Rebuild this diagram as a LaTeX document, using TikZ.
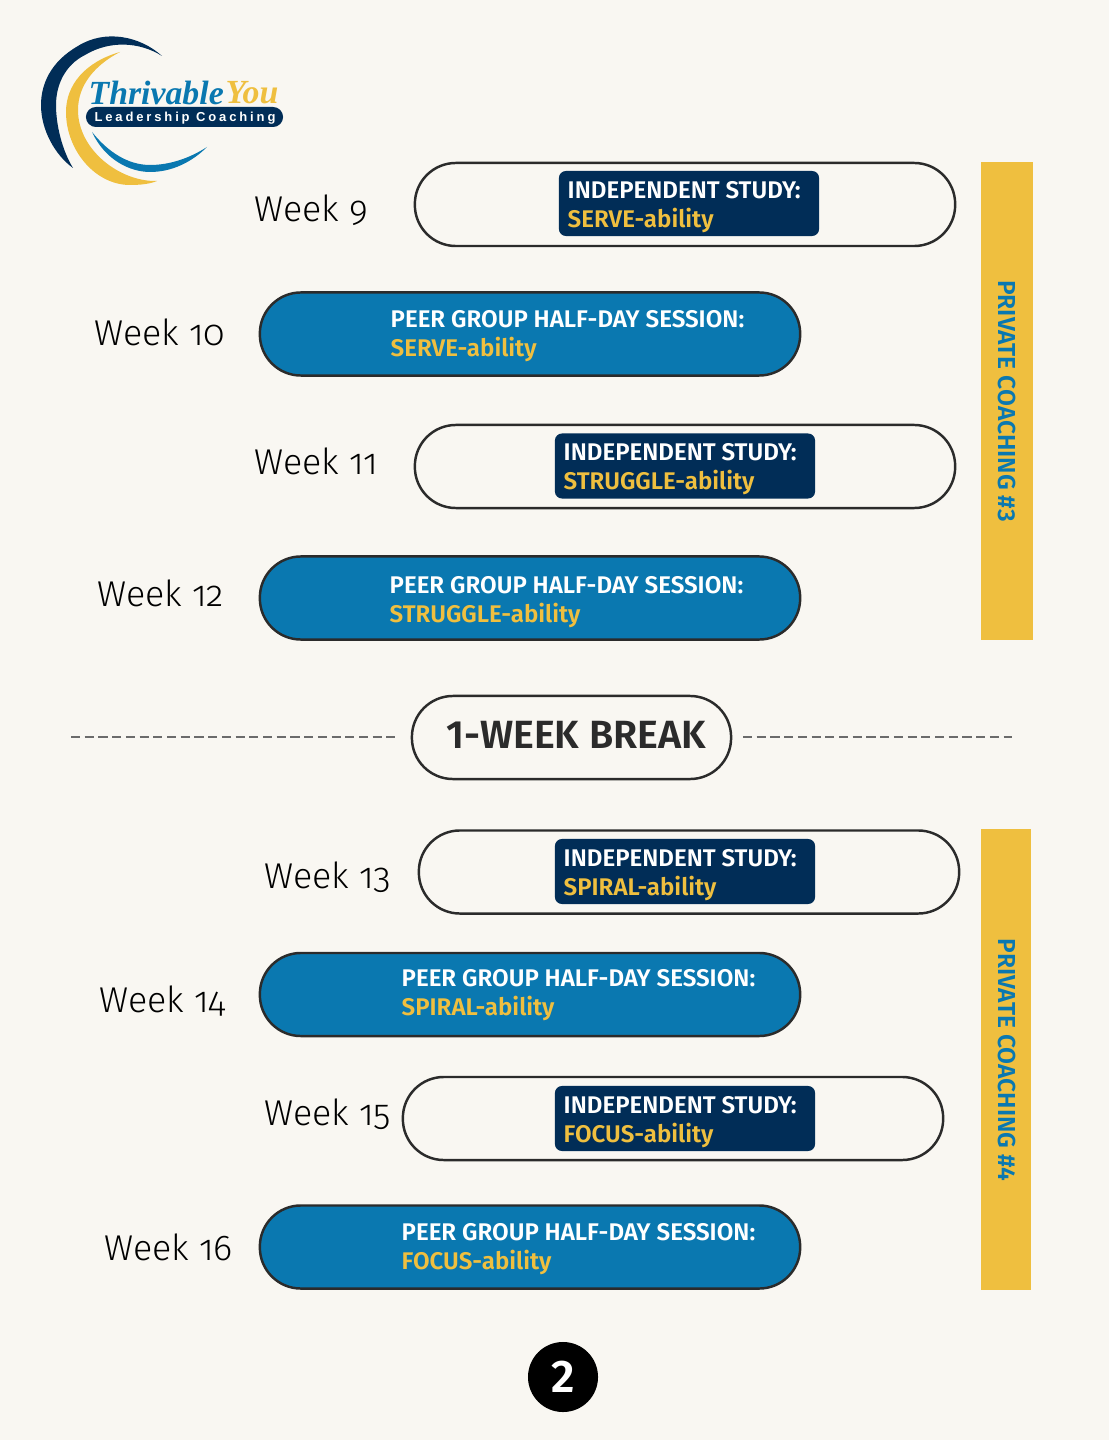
\documentclass[tikz,border=0pt]{standalone}
\usepackage{fontspec}
\setmainfont{Fira Sans}
\newfontfamily\weekfont[Numbers=OldStyle]{Fira Sans Light}
\newfontfamily\labelfont{Fira Sans SemiBold}
\newfontfamily\logofont{Liberation Serif}
\newfontfamily\tagfont[LetterSpace=22]{Liberation Sans}
\definecolor{paper}{HTML}{F9F7F2}
\definecolor{navy}{HTML}{012D57}
\definecolor{ocean}{HTML}{0A78B0}
\definecolor{gold}{HTML}{EFBF3F}
\definecolor{ink}{HTML}{2B2B2B}

\begin{document}
\begin{tikzpicture}[x=0.01cm,y=-0.01cm]
  \tikzstyle{week}=[anchor=west,inner sep=0pt,font=\weekfont\fontsize{10.2}{12}\selectfont,text=black]
  \tikzstyle{pill}=[rectangle,rounded corners=0.41cm,draw=ink,line width=0.7pt,minimum width=5.4cm,minimum height=0.83cm,inner sep=0pt]
  \tikzstyle{study}=[pill,fill=paper]
  \tikzstyle{peer}=[pill,fill=ocean]
  \tikzstyle{lines}=[anchor=west,inner sep=0pt,align=left,text=white,font=\labelfont\fontsize{6.85}{8.25}\selectfont]
  \tikzstyle{tag}=[rectangle,rounded corners=0.07cm,fill=navy,minimum width=2.6cm,minimum height=0.65cm,inner sep=0pt]
  \tikzstyle{bar}=[rectangle,fill=gold,inner sep=0pt]
  \tikzstyle{coaching}=[rotate=-90,inner sep=0pt,text=ocean,font=\labelfont\fontsize{6.98}{8}\selectfont]
  \tikzstyle{breakline}=[draw=ink!70,line width=0.5pt,dash pattern=on 2.6pt off 1.3pt]

  \fill[paper] (0,0) rectangle (1109,1440);

  % logo
  \fill[navy] (162,56) .. controls (140,36) and (105,29) .. (78,46) .. controls (50,62) and (41,85) .. (41,105) .. controls (41,130) and (55,155) .. (73,168) .. controls (62,150) and (56,125) .. (56,105) .. controls (56,85) and (65,65) .. (85,55) .. controls (110,40) and (140,42) .. (162,56);
  \fill[gold] (120,52) .. controls (85,62) and (66,85) .. (66,112) .. controls (66,150) and (95,185) .. (130,185) .. controls (140,185) and (150,184) .. (157,181) .. controls (120,182) and (78,150) .. (78,110) .. controls (78,85) and (95,65) .. (120,52);
  \fill[ocean] (92,132) .. controls (105,160) and (130,172) .. (150,172) .. controls (172,172) and (192,162) .. (207,147) .. controls (190,158) and (170,165) .. (150,165) .. controls (128,165) and (108,152) .. (92,132);
  \node[anchor=west,inner sep=0pt,font=\logofont\bfseries\itshape\fontsize{9.6}{11}\selectfont,text=ocean] (thrivable) at (88,93) {Thrivable};
  \node[anchor=west,inner sep=0pt,font=\logofont\bfseries\itshape\fontsize{9.6}{11}\selectfont,text=gold] (you) at (225,93) {You};
  \node[rectangle,rounded corners=0.1cm,fill=navy,minimum width=1.97cm,minimum height=0.2cm,inner sep=0pt] (coachingtag) at (184.5,117) {};
  \node[inner sep=0pt,text=white,font=\tagfont\bfseries\fontsize{3.7}{4}\selectfont] (coachingtext) at (185,118) {Leadership Coaching};

  % first block
  \node[week] (W_9) at (254,210) {Week 9};
  \node[week] (W_10) at (94,332) {Week 10};
  \node[week] (W_11) at (254,461) {Week 11};
  \node[week] (W_12) at (97,593) {Week 12};

  \node[study] (P_9) at (685,204.5) {};
  \node[peer] (P_10) at (530,334) {};
  \node[study] (P_11) at (685,466.5) {};
  \node[peer] (P_12) at (530,598) {};

  \node[tag] (T_9) at (689,203.5) {};
  \node[tag] (T_11) at (685,466) {};
  \node[lines] (L_9) at (567,207) {INDEPENDENT STUDY:\\\textcolor{gold}{SERVE-ability}};
  \node[lines] (L_10) at (390,336) {PEER GROUP HALF-DAY SESSION:\\\textcolor{gold}{SERVE-ability}};
  \node[lines] (L_11) at (563,469) {INDEPENDENT STUDY:\\\textcolor{gold}{STRUGGLE-ability}};
  \node[lines] (L_12) at (389,602) {PEER GROUP HALF-DAY SESSION:\\\textcolor{gold}{STRUGGLE-ability}};

  \node[bar,minimum width=0.52cm,minimum height=4.78cm] (B_3) at (1007,401) {};
  \node[coaching] (C_3) at (1007,401) {PRIVATE COACHING \#3};

  % break
  \node[rectangle,rounded corners=0.41cm,draw=ink,line width=0.7pt,minimum width=3.19cm,minimum height=0.83cm,inner sep=0pt] (breakpill) at (571.5,737.5) {};
  \node[inner sep=0pt,text=ink,font=\labelfont\fontsize{11.2}{13}\selectfont] (breaktext) at (576,735) {1-WEEK BREAK};
  \coordinate (dash_a) at (71,737);
  \coordinate (dash_b) at (395,737);
  \coordinate (dash_c) at (743,737);
  \coordinate (dash_d) at (1012,737);
  \draw[breakline] (dash_a) -- (dash_b);
  \draw[breakline] (dash_c) -- (dash_d);

  % second block
  \node[week] (W_13) at (264,877) {Week 13};
  \node[week] (W_14) at (99,1001) {Week 14};
  \node[week] (W_15) at (264,1114) {Week 15};
  \node[week] (W_16) at (104,1247) {Week 16};

  \node[study] (P_13) at (689,872) {};
  \node[peer] (P_14) at (530,994.5) {};
  \node[study] (P_15) at (673,1118.5) {};
  \node[peer] (P_16) at (530,1247) {};

  \node[tag] (T_13) at (685,871.5) {};
  \node[tag] (T_15) at (685,1118.5) {};
  \node[lines] (L_13) at (563,875) {INDEPENDENT STUDY:\\\textcolor{gold}{SPIRAL-ability}};
  \node[lines] (L_14) at (401,995) {PEER GROUP HALF-DAY SESSION:\\\textcolor{gold}{SPIRAL-ability}};
  \node[lines] (L_15) at (563,1122) {INDEPENDENT STUDY:\\\textcolor{gold}{FOCUS-ability}};
  \node[lines] (L_16) at (401,1249) {PEER GROUP HALF-DAY SESSION:\\\textcolor{gold}{FOCUS-ability}};

  \node[bar,minimum width=0.5cm,minimum height=4.61cm] (B_4) at (1006,1059.5) {};
  \node[coaching] (C_4) at (1007,1060) {PRIVATE COACHING \#4};

  % page number
  \node[circle,fill=black,minimum size=0.7cm,inner sep=0pt,text=white,font=\labelfont\fontsize{13}{15}\selectfont] (pagenum) at (563,1377) {2};
\end{tikzpicture}
\end{document}
